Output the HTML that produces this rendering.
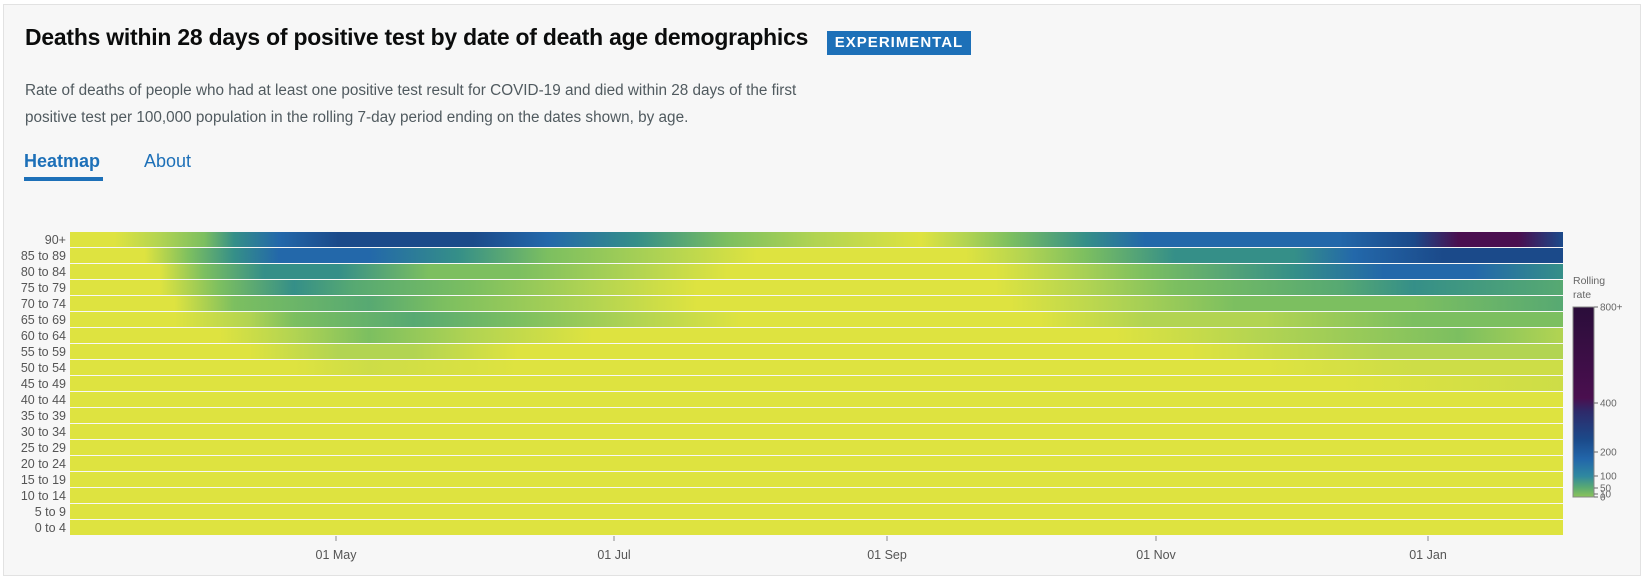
<!DOCTYPE html>
<html><head><style>
body{margin:0;width:1651px;height:567px;background:#fff;font-family:"Liberation Sans",sans-serif;overflow:hidden;position:relative}
.card{position:absolute;left:3px;top:4px;width:1636px;height:570px;background:#f7f7f7;border:1px solid #e2e2e2}
.t{position:absolute;left:25px;top:24px;font-size:22.9px;font-weight:bold;color:#0b0c0c;white-space:nowrap;letter-spacing:-0.2px}
.badge{position:absolute;left:827px;top:31px;width:144px;height:24px;background:#1d70b8;color:#fff;font-weight:bold;font-size:15px;line-height:24px;text-align:center;letter-spacing:1px}
.sub{position:absolute;left:25px;top:77px;font-size:15.3px;color:#505a5f;line-height:27px;width:820px}
.tab{position:absolute;top:151px;font-size:18px;color:#1d70b8}
.ul{position:absolute;left:24px;top:177px;width:79px;height:4px;background:#1d70b8}
</style></head><body>
<div class="card"></div>
<div class="t">Deaths within 28 days of positive test by date of death age demographics</div>
<div class="badge">EXPERIMENTAL</div>
<div class="sub">Rate of deaths of people who had at least one positive test result for COVID-19 and died within 28 days of the first<br>positive test per 100,000 population in the rolling 7-day period ending on the dates shown, by age.</div>
<div class="tab" style="left:24px;font-weight:bold">Heatmap</div>
<div class="tab" style="left:144px">About</div>
<div class="ul"></div>
<svg id="s" width="1651" height="567" style="position:absolute;left:0;top:0" font-family="Liberation Sans, sans-serif"></svg>
<script>
const C={Y:'#dee340',YL:'#cddd47',LG:'#b2d452',G:'#7cbf60',MG:'#57a972',T:'#358f88',B:'#2368aa',DB:'#1b4a8a',P:'#4a0f4f',DP:'#2a0d3a'};
const rows=[
['90+','0 Y,.03 Y,.06 LG,.09 G,.11 T,.14 B,.18 DB,.27 DB,.32 B,.38 T,.44 G,.5 LG,.57 Y,.6 LG,.63 G,.68 T,.72 B,.85 B,.9 DB,.93 P,.97 P,1 DB'],
['85 to 89','0 Y,.05 Y,.08 G,.11 T,.14 B,.2 B,.26 T,.32 G,.4 LG,.46 Y,.6 Y,.64 LG,.68 G,.74 T,.82 T,.86 B,.92 DB,1 DB'],
['80 to 84','0 Y,.06 Y,.09 G,.13 T,.18 T,.24 G,.3 G,.38 LG,.44 Y,.62 Y,.67 LG,.72 G,.82 T,.88 B,.94 B,1 T'],
['75 to 79','0 Y,.06 Y,.1 G,.15 T,.19 MG,.27 G,.35 LG,.42 Y,.62 Y,.68 LG,.74 G,.85 MG,.9 T,1 MG'],
['70 to 74','0 Y,.07 Y,.11 G,.2 MG,.25 G,.35 LG,.42 Y,.63 Y,.7 LG,.78 G,.9 G,1 MG'],
['65 to 69','0 Y,.07 Y,.12 LG,.15 G,.23 MG,.3 G,.38 LG,.45 Y,.65 Y,.72 LG,.8 LG,.9 G,1 G'],
['60 to 64','0 Y,.1 Y,.15 LG,.2 G,.27 LG,.35 Y,.7 Y,.8 LG,.93 G,1 LG'],
['55 to 59','0 Y,.12 Y,.18 LG,.23 LG,.3 Y,.75 Y,.88 LG,1 LG'],
['50 to 54','0 Y,.15 Y,.2 YL,.3 Y,.8 Y,.9 YL,1 YL'],
['45 to 49','0 Y,.85 Y,1 YL'],
['40 to 44','0 Y,1 Y'],['35 to 39','0 Y,1 Y'],['30 to 34','0 Y,1 Y'],['25 to 29','0 Y,1 Y'],['20 to 24','0 Y,1 Y'],['15 to 19','0 Y,1 Y'],['10 to 14','0 Y,1 Y'],['5 to 9','0 Y,1 Y'],['0 to 4','0 Y,1 Y']];
let h='<defs>';
rows.forEach((r,i)=>{h+=`<linearGradient id="g${i}">`+r[1].split(',').map(s=>{const[a,b]=s.trim().split(' ');return `<stop offset="${a}" stop-color="${C[b]}"/>`}).join('')+'</linearGradient>';});
h+='<linearGradient id="cb" x1="0" y1="1" x2="0" y2="0"><stop offset="0" stop-color="#8cc45a"/><stop offset=".05" stop-color="#5aaa72"/><stop offset=".11" stop-color="#2f88a0"/><stop offset=".2" stop-color="#2266aa"/><stop offset=".3" stop-color="#1b4a8a"/><stop offset=".45" stop-color="#2e2a6a"/><stop offset=".52" stop-color="#4a0f4f"/><stop offset="1" stop-color="#2a0d3a"/></linearGradient></defs>';
const x0=70,w=1493,y0=232,p=16;
rows.forEach((r,i)=>{const y=y0+i*p;h+=`<rect x="${x0}" y="${y}" width="${w}" height="15" fill="url(#g${i})"/><text x="66" y="${y+12}" text-anchor="end" font-size="12.5" fill="#555">${r[0]}</text>`;});
[['01 May',336],['01 Jul',614],['01 Sep',887],['01 Nov',1156],['01 Jan',1428]].forEach(t=>{h+=`<line x1="${t[1]}" x2="${t[1]}" y1="536" y2="541" stroke="#888"/><text x="${t[1]}" y="559" text-anchor="middle" font-size="12.5" fill="#555">${t[0]}</text>`;});
h+='<text x="1573" y="284" font-size="10.5" fill="#666">Rolling</text><text x="1573" y="298" font-size="10.5" fill="#666">rate</text>';
h+='<rect x="1573" y="307" width="21" height="190" fill="url(#cb)" stroke="#888" stroke-width="1"/>';
[['800+',307],['400',403],['200',452],['100',476],['50',488],['10',494],['0',497]].forEach(t=>{h+=`<line x1="1594" x2="1598" y1="${t[1]}" y2="${t[1]}" stroke="#666"/><text x="1600" y="${t[1]+3.5}" font-size="10" fill="#666">${t[0]}</text>`;});
document.getElementById('s').innerHTML=h;
</script>
</body></html>
